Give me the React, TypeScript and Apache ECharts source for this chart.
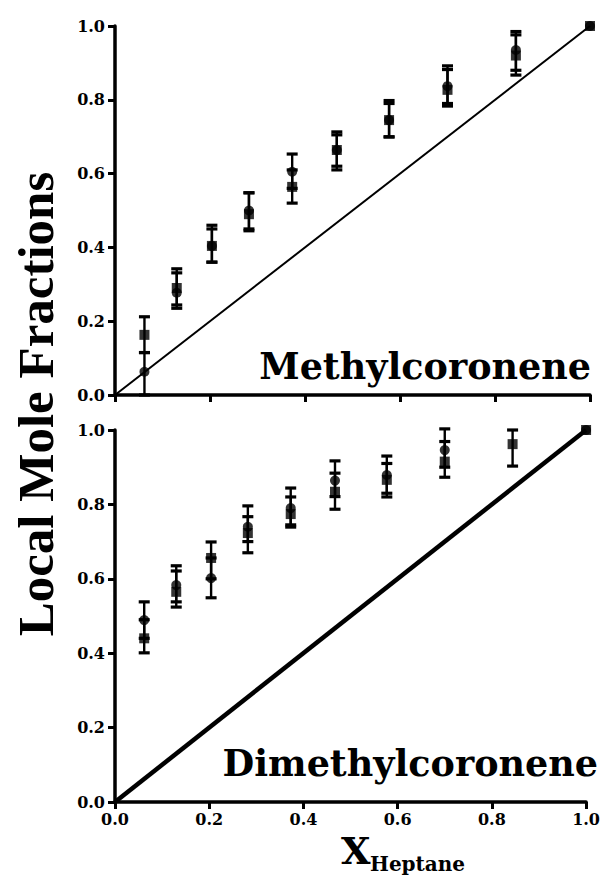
import React, { useEffect, useRef } from "react";
import * as echarts from "echarts";

const xTicks = [0, 0.2, 0.4, 0.6, 0.8, 1.0];
const xHeptane = [0.062, 0.13, 0.204, 0.282, 0.373, 0.467, 0.577, 0.7, 0.844, 1.0];

// Methylcoronene (top panel)
const methylSquare = [0.163, 0.29, 0.404, 0.49, 0.564, 0.664, 0.745, 0.827, 0.92, 1.0];
const methylSquareLow = [0.115, 0.244, 0.36, 0.445, 0.52, 0.61, 0.699, 0.783, 0.867, null];
const methylSquareHigh = [0.212, 0.342, 0.46, 0.548, 0.61, 0.713, 0.798, 0.882, 0.976, null];
const methylCircle = [0.063, 0.277, 0.404, 0.5, 0.605, 0.664, 0.745, 0.837, 0.935, 1.0];
const methylCircleLow = [0.0, 0.235, 0.36, 0.45, 0.56, 0.62, 0.7, 0.79, 0.88, null];
const methylCircleHigh = [0.115, 0.331, 0.45, 0.548, 0.653, 0.705, 0.79, 0.892, 0.985, null];

// Dimethylcoronene (bottom panel)
const dimethylSquare = [0.44, 0.565, 0.656, 0.723, 0.774, 0.834, 0.866, 0.915, 0.962, 1.0];
const dimethylSquareLow = [0.401, 0.524, 0.6, 0.67, 0.739, 0.787, 0.82, 0.873, 0.903, null];
const dimethylSquareHigh = [0.49, 0.621, 0.699, 0.767, 0.82, 0.884, 0.91, 0.969, 1.0, null];
const dimethylCircle = [0.489, 0.583, 0.602, 0.74, 0.79, 0.864, 0.879, 0.946, null, 1.0];
const dimethylCircleLow = [0.44, 0.538, 0.549, 0.7, 0.745, 0.821, 0.83, 0.9, null, null];
const dimethylCircleHigh = [0.538, 0.635, 0.656, 0.796, 0.844, 0.917, 0.93, 1.003, null, null];

const identityLine = [
  [0, 0],
  [1, 1],
];

const SERIF = '"DejaVu Serif", "Liberation Serif", serif';

function points(xs: number[], ys: (number | null)[]) {
  const out: number[][] = [];
  xs.forEach((x, i) => {
    const y = ys[i];
    if (y !== null && y !== undefined) out.push([x, y]);
  });
  return out;
}

function bars(xs: number[], lo: (number | null)[], hi: (number | null)[]) {
  const out: number[][] = [];
  xs.forEach((x, i) => {
    const l = lo[i];
    const h = hi[i];
    if (l !== null && h !== null && l !== undefined && h !== undefined) out.push([x, l, h]);
  });
  return out;
}

function errorSeries(data: number[][], idx: number) {
  return {
    type: "custom",
    xAxisIndex: idx,
    yAxisIndex: idx,
    data,
    encode: { x: 0, y: [1, 2] },
    z: 3,
    renderItem: (params: any, api: any) => {
      const x = api.value(0);
      const p1 = api.coord([x, api.value(1)]);
      const p2 = api.coord([x, api.value(2)]);
      const hw = 5.5;
      const st = { stroke: "#000", lineWidth: 2.4 };
      const cap = { stroke: "#000", lineWidth: 3.2 };
      return {
        type: "group",
        children: [
          { type: "line", shape: { x1: p1[0], y1: p1[1], x2: p2[0], y2: p2[1] }, style: st },
          { type: "line", shape: { x1: p1[0] - hw, y1: p1[1], x2: p1[0] + hw, y2: p1[1] }, style: cap },
          { type: "line", shape: { x1: p2[0] - hw, y1: p2[1], x2: p2[0] + hw, y2: p2[1] }, style: cap },
        ],
      };
    },
  };
}

function scatter(data: number[][], idx: number, symbol: string, size: number) {
  return {
    type: "scatter",
    xAxisIndex: idx,
    yAxisIndex: idx,
    data,
    symbol,
    symbolSize: size,
    itemStyle: { color: "#000" },
    z: 4,
  };
}

export default function App() {
  const ref = useRef<HTMLDivElement>(null);
  useEffect(() => {
    if (!ref.current) return;
    const chart = echarts.init(ref.current, undefined, { renderer: "svg" });
    const axisLine = { show: true, onZero: false, lineStyle: { color: "#000", width: 3.5 } };
    const axisTick = { show: true, inside: false, length: 7, lineStyle: { color: "#000", width: 3 } };
    const labelStyle = { color: "#000", fontFamily: SERIF, fontWeight: "bold" as const, fontSize: 16 };
    const xAxis = (idx: number, showLabel: boolean) => ({
      type: "value",
      gridIndex: idx,
      min: 0,
      max: 1,
      interval: 0.2,
      axisLine,
      axisTick,
      splitLine: { show: false },
      axisLabel: { show: showLabel, ...labelStyle, margin: 9, formatter: (v: number) => v.toFixed(1) },
    });
    const yAxis = (idx: number) => ({
      type: "value",
      gridIndex: idx,
      min: 0,
      max: 1,
      interval: 0.2,
      axisLine,
      axisTick,
      splitLine: { show: false },
      axisLabel: { ...labelStyle, margin: 10, formatter: (v: number) => v.toFixed(1) },
    });
    const option = {
      animation: false,
      backgroundColor: "#fff",
      grid: [
        { left: 115, top: 26, width: 475, height: 369 },
        { left: 115, top: 430, width: 475, height: 372 },
      ],
      xAxis: [xAxis(0, false), xAxis(1, true)],
      yAxis: [yAxis(0), yAxis(1)],
      graphic: [
        {
          type: "text",
          x: 36,
          y: 404,
          rotation: Math.PI / 2,
          style: {
            text: "Local Mole Fractions",
            font: 'bold 51px "Liberation Serif", serif',
            fill: "#000",
            textAlign: "center",
            textVerticalAlign: "middle",
          },
        },
        {
          type: "text",
          x: 591,
          y: 385,
          style: {
            text: "Methylcoronene",
            font: `bold 36.5px ${SERIF}`,
            fill: "#000",
            textAlign: "right",
            textVerticalAlign: "bottom",
          },
        },
        {
          type: "text",
          x: 598,
          y: 782,
          style: {
            text: "Dimethylcoronene",
            font: `bold 36.5px ${SERIF}`,
            fill: "#000",
            textAlign: "right",
            textVerticalAlign: "bottom",
          },
        },
        {
          type: "text",
          x: 341,
          y: 869,
          style: {
            text: "X",
            font: `bold 38px ${SERIF}`,
            fill: "#000",
            textAlign: "left",
            textVerticalAlign: "bottom",
          },
        },
        {
          type: "text",
          x: 370,
          y: 874,
          style: {
            text: "Heptane",
            font: `bold 20px ${SERIF}`,
            fill: "#000",
            textAlign: "left",
            textVerticalAlign: "bottom",
          },
        },
      ],
      series: [
        {
          type: "line",
          xAxisIndex: 0,
          yAxisIndex: 0,
          data: identityLine,
          symbol: "none",
          lineStyle: { color: "#000", width: 2 },
          z: 2,
        },
        {
          type: "line",
          xAxisIndex: 1,
          yAxisIndex: 1,
          data: identityLine,
          symbol: "none",
          lineStyle: { color: "#000", width: 4.5 },
          z: 2,
        },
        errorSeries(bars(xHeptane, methylSquareLow, methylSquareHigh), 0),
        errorSeries(bars(xHeptane, methylCircleLow, methylCircleHigh), 0),
        errorSeries(bars(xHeptane, dimethylSquareLow, dimethylSquareHigh), 1),
        errorSeries(bars(xHeptane, dimethylCircleLow, dimethylCircleHigh), 1),
        scatter(points(xHeptane, methylSquare), 0, "rect", 10),
        scatter(points(xHeptane, methylCircle), 0, "circle", 10),
        scatter(points(xHeptane, dimethylSquare), 1, "rect", 10),
        scatter(points(xHeptane, dimethylCircle), 1, "circle", 10),
      ],
    };
    chart.setOption(option as any);
    return () => chart.dispose();
  }, []);
  return (
    <div
      ref={ref}
      style={{ position: "fixed", left: 0, top: 0, width: 603, height: 877, background: "#fff" }}
    />
  );
}

export { xTicks };
